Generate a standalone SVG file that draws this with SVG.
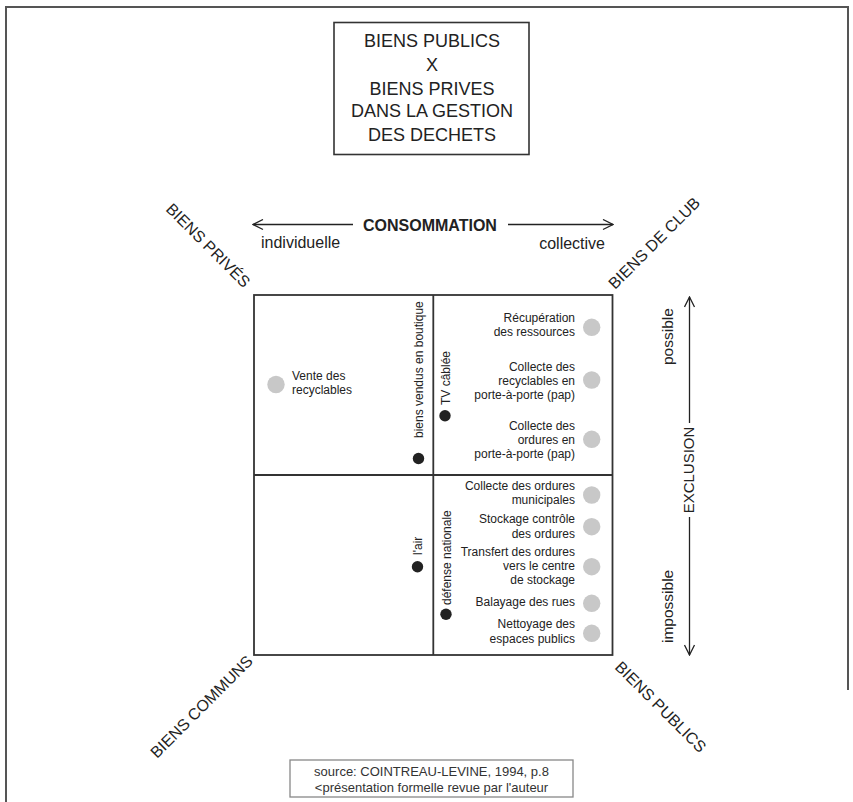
<svg xmlns="http://www.w3.org/2000/svg" width="853" height="802" viewBox="0 0 853 802">
<style>
text{font-family:"Liberation Sans",Arial,sans-serif;fill:#222}
.t{font-size:18px;text-anchor:middle}
.ax{font-size:16px}
.lab{font-size:12px}
.r{text-anchor:end}
.corner{font-size:16px}
.ln{stroke:#222;stroke-width:1.3;fill:none}
.gc{fill:#c8c8c8}
.bc{fill:#222}
.src{font-size:13px;text-anchor:middle;fill:#333}
</style>
<defs>
<marker id="ah" viewBox="0 0 12 12" refX="11" refY="6" markerWidth="12" markerHeight="12" markerUnits="userSpaceOnUse" orient="auto-start-reverse">
<path d="M1,1 L11,6 L1,11" fill="none" stroke="#222" stroke-width="1.3"/>
</marker>
</defs>
<rect width="853" height="802" fill="#fff"/>
<path d="M6,802 V7 H848 V690" fill="none" stroke="#555" stroke-width="2"/>
<g id="title">
<rect x="334" y="22.5" width="195" height="132" fill="#fff" stroke="#333" stroke-width="1.6"/>
<text class="t" x="432" y="47">BIENS PUBLICS</text>
<text class="t" x="432" y="71">X</text>
<text class="t" x="432" y="95">BIENS PRIVES</text>
<text class="t" x="432" y="117">DANS LA GESTION</text>
<text class="t" x="432" y="141">DES DECHETS</text>
</g>
<g id="connectors">
<line class="ln" x1="353" y1="224.5" x2="253" y2="224.5" marker-end="url(#ah)"/>
<line class="ln" x1="508" y1="224.5" x2="613" y2="224.5" marker-end="url(#ah)"/>
<line class="ln" x1="689.5" y1="423" x2="689.5" y2="297" marker-end="url(#ah)"/>
<line class="ln" x1="689.5" y1="517" x2="689.5" y2="655" marker-end="url(#ah)"/>
</g>
<g id="axis-consommation">
<text x="363" y="231" style="font-size:16px;font-weight:bold">CONSOMMATION</text>
<text class="ax" x="261" y="248">individuelle</text>
<text class="ax r" x="605" y="249">collective</text>
</g>
<g id="axis-exclusion">
<text transform="translate(694,470) rotate(-90)" style="font-size:15px;text-anchor:middle">EXCLUSION</text>
<text transform="translate(673,365) rotate(-90)" style="font-size:15.5px">possible</text>
<text transform="translate(673,643) rotate(-90)" style="font-size:15.5px">impossible</text>
</g>
<g id="corners">
<text class="corner" transform="translate(165,210) rotate(45)">BIENS PRIVÉS</text>
<text class="corner" transform="translate(615,290) rotate(-45)">BIENS DE CLUB</text>
<text class="corner" transform="translate(157,759) rotate(-45)">BIENS COMMUNS</text>
<text class="corner" transform="translate(614,668) rotate(45)">BIENS PUBLICS</text>
</g>
<g id="matrix">
<rect x="254" y="295" width="358.5" height="360" fill="none" stroke="#333" stroke-width="1.8"/>
<line x1="433.3" y1="295" x2="433.3" y2="655" stroke="#333" stroke-width="1.8"/>
<line x1="254" y1="475" x2="612.5" y2="475" stroke="#333" stroke-width="1.8"/>
</g>
<g id="n-vente">
<circle class="gc" cx="276" cy="384.5" r="8.7"/>
<text class="lab" x="292" y="380">Vente des</text>
<text class="lab" x="292" y="394">recyclables</text>
</g>
<g id="n-boutique">
<circle class="bc" cx="418.5" cy="458.5" r="5.7"/>
<text class="lab" transform="translate(422.5,438) rotate(-90)">biens vendus en boutique</text>
</g>
<g id="n-tv">
<circle class="bc" cx="445" cy="415.7" r="5.7"/>
<text class="lab" transform="translate(450,405) rotate(-90)">TV câblée</text>
</g>
<g id="n-air">
<circle class="bc" cx="417.5" cy="566.7" r="5.7"/>
<text class="lab" transform="translate(422,555) rotate(-90)">l'air</text>
</g>
<g id="n-defense">
<circle class="bc" cx="446" cy="614.3" r="5.7"/>
<text class="lab" transform="translate(450.5,605) rotate(-90)">défense nationale</text>
</g>
<g id="n-recup">
<circle class="gc" cx="591.7" cy="327.3" r="8.7"/>
<text class="lab r" x="575" y="321.7">Récupération</text>
<text class="lab r" x="575" y="336">des ressources</text>
</g>
<g id="n-coll-recy">
<circle class="gc" cx="591.7" cy="380" r="8.7"/>
<text class="lab r" x="575" y="370.7">Collecte des</text>
<text class="lab r" x="575" y="385">recyclables en</text>
<text class="lab r" x="575" y="399">porte-à-porte (pap)</text>
</g>
<g id="n-coll-ord">
<circle class="gc" cx="591.7" cy="439.3" r="8.7"/>
<text class="lab r" x="575" y="430">Collecte des</text>
<text class="lab r" x="575" y="444">ordures en</text>
<text class="lab r" x="575" y="458.3">porte-à-porte (pap)</text>
</g>
<g id="n-coll-mun">
<circle class="gc" cx="591.7" cy="495" r="8.7"/>
<text class="lab r" x="575" y="490">Collecte des ordures</text>
<text class="lab r" x="575" y="504.3">municipales</text>
</g>
<g id="n-stockage">
<circle class="gc" cx="591.7" cy="526.7" r="8.7"/>
<text class="lab r" x="575" y="523.3">Stockage contrôle</text>
<text class="lab r" x="575" y="537.7">des ordures</text>
</g>
<g id="n-transfert">
<circle class="gc" cx="591.7" cy="566.7" r="8.7"/>
<text class="lab r" x="575" y="556">Transfert des ordures</text>
<text class="lab r" x="575" y="570">vers le centre</text>
<text class="lab r" x="575" y="584.3">de stockage</text>
</g>
<g id="n-balayage">
<circle class="gc" cx="591.7" cy="603.3" r="8.7"/>
<text class="lab r" x="575" y="606">Balayage des rues</text>
</g>
<g id="n-nettoyage">
<circle class="gc" cx="591.7" cy="633.3" r="8.7"/>
<text class="lab r" x="575" y="628.3">Nettoyage des</text>
<text class="lab r" x="575" y="643.3">espaces publics</text>
</g>
<g id="source">
<rect x="290" y="760" width="283" height="37" fill="#fff" stroke="#888" stroke-width="1.3"/>
<text class="src" x="431.5" y="776">source: COINTREAU-LEVINE, 1994, p.8</text>
<text class="src" x="431.5" y="792">&lt;présentation formelle revue par l'auteur</text>
</g>
</svg>
